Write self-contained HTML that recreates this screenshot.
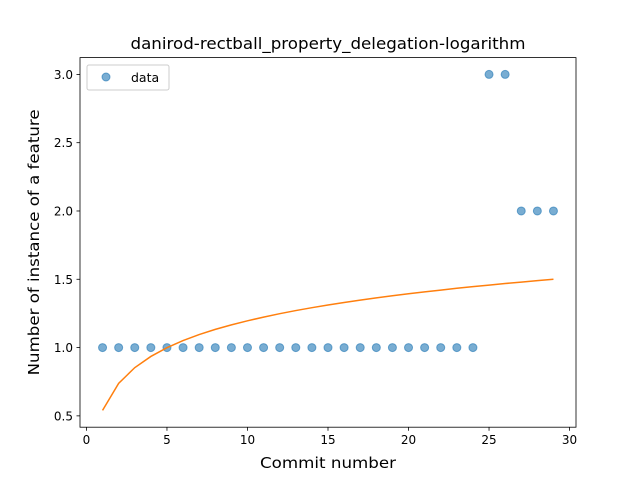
<!DOCTYPE html>
<html><head><meta charset="utf-8"><style>
body{margin:0;background:#fff}
svg text{font-family:"DejaVu Sans","Liberation Sans",sans-serif;fill:#000}
</style></head><body>
<svg id="chart" width="640" height="480" viewBox="0 0 640 480">
<rect width="640" height="480" fill="#fff"/>
<text x="328" y="49" font-size="16" text-anchor="middle" textLength="395" lengthAdjust="spacingAndGlyphs">danirod-rectball_property_delegation-logarithm</text>
<g id="plot"></g>
<rect x="80" y="57.6" width="496" height="369.6" fill="none" stroke="#000" stroke-width="0.8"/>
<text x="328" y="468" font-size="15.5" text-anchor="middle" textLength="136" lengthAdjust="spacingAndGlyphs">Commit number</text>
<text transform="translate(39,242.4) rotate(-90)" font-size="15.5" text-anchor="middle" textLength="266" lengthAdjust="spacingAndGlyphs">Number of instance of a feature</text>
<g>
<rect x="87" y="65" width="82" height="25" rx="2" fill="#fff" stroke="#ccc" stroke-width="1"/>
<circle cx="106" cy="77" r="4" fill="#1f77b4" fill-opacity="0.6" stroke="#1f77b4" stroke-opacity="0.6"/>
<text x="131" y="82" font-size="12.5">data</text>
</g>
</svg>
<script>
const commits=[1,2,3,4,5,6,7,8,9,10,11,12,13,14,15,16,17,18,19,20,21,22,23,24,25,26,27,28,29];
const counts=[1,1,1,1,1,1,1,1,1,1,1,1,1,1,1,1,1,1,1,1,1,1,1,1,3,3,2,2,2];
const fitValues=[0.540,0.738,0.853,0.935,0.999,1.051,1.095,1.133,1.166,1.196,1.223,1.248,1.271,1.292,1.312,1.330,1.347,1.364,1.379,1.394,1.408,1.421,1.434,1.446,1.457,1.469,1.479,1.490,1.500];
const xTicks=[0,5,10,15,20,25,30];
const yTicks=[0.5,1.0,1.5,2.0,2.5,3.0];
const NS="http://www.w3.org/2000/svg";
const L=80,R=576,T=57.6,B=427.2;
const allY=counts.concat(fitValues);
const xmin0=Math.min(...commits),xmax0=Math.max(...commits),ymin0=Math.min(...allY),ymax0=Math.max(...allY);
const xm=(xmax0-xmin0)*0.05,ym=(ymax0-ymin0)*0.05;
const xmin=xmin0-xm,xmax=xmax0+xm,ymin=ymin0-ym,ymax=ymax0+ym;
const sx=v=>L+(v-xmin)/(xmax-xmin)*(R-L);
const sy=v=>B-(v-ymin)/(ymax-ymin)*(B-T);
const g=document.getElementById('plot');
function mk(t,a){const e=document.createElementNS(NS,t);for(const k in a)e.setAttribute(k,a[k]);g.appendChild(e);return e;}
xTicks.forEach(v=>{const x=sx(v);
 const l=mk('line',{x1:x,x2:x,y1:B,y2:B+3.5,stroke:'#000','stroke-width':0.8});
 
 
 const t=mk('text',{x:x,y:B+17,'font-size':12,'text-anchor':'middle'});t.textContent=v;
 
 });
yTicks.forEach(v=>{const y=sy(v);
 const l=mk('line',{x1:L-3.5,x2:L,y1:y,y2:y,stroke:'#000','stroke-width':0.8});
 
 
 const t=mk('text',{x:L-7,y:y+4.5,'font-size':12,'text-anchor':'end'});t.textContent=v.toFixed(1);
 
 });
commits.forEach((c,i)=>{
 const p=mk('circle',{cx:sx(c),cy:sy(counts[i]),r:4,fill:'#1f77b4','fill-opacity':0.6,stroke:'#1f77b4','stroke-opacity':0.6});
 
 });
const path=mk('polyline',{points:commits.map((c,i)=>sx(c)+','+sy(fitValues[i])).join(' '),fill:'none',stroke:'#ff7f0e','stroke-width':1.5});


</script>
</body></html>
